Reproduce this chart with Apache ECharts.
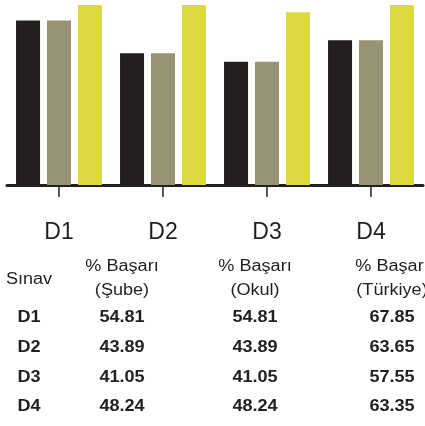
<!DOCTYPE html>
<html>
<head>
<meta charset="utf-8">
<script src="https://cdn.jsdelivr.net/npm/echarts@6/dist/echarts.min.js"></script>
<style>
  html, body { margin: 0; padding: 0; background: #ffffff; }
  #chart { width: 425px; height: 426px; }
</style>
</head>
<body>
<div id="chart"></div>
<script>
// Exam categories and success rates
const categories = ['D1', 'D2', 'D3', 'D4'];
const subeValues = [54.81, 43.89, 41.05, 48.24];
const okulValues = [54.81, 43.89, 41.05, 48.24];
const turkiyeValues = [67.85, 63.65, 57.55, 63.35];

// Table header texts
const headerSinav = 'Sınav';
const headerCols = [
  ['% Başarı', '(Şube)'],
  ['% Başarı', '(Okul)'],
  ['% Başarı', '(Türkiye)']
];

const ink = '#231f20';
const fontFamily = '"Liberation Sans", Arial, sans-serif';

const chart = echarts.init(document.getElementById('chart'), null, { renderer: 'canvas' });

// Summary table drawn under the chart
const colX = [29, 122, 255, 392];
const headY1 = 267, headY2 = 291, headMidY = 280;
const rowY = [318, 348, 378, 407];
const sx = 1.13;

function txt(x, y, text, bold) {
  return {
    type: 'text',
    x: x, y: y,
    scaleX: sx,
    style: {
      text: text,
      x: 0, y: 0,
      align: 'center',
      verticalAlign: 'middle',
      fill: ink,
      font: (bold ? 'bold ' : '') + '16px ' + fontFamily
    }
  };
}

const tableItems = [];
tableItems.push(txt(colX[0], headMidY, headerSinav, false));
headerCols.forEach((h, i) => {
  tableItems.push(txt(colX[i + 1], headY1, h[0], false));
  tableItems.push(txt(colX[i + 1], headY2, h[1], false));
});
const seriesCols = [subeValues, okulValues, turkiyeValues];
categories.forEach((c, r) => {
  tableItems.push(txt(colX[0], rowY[r], c, true));
  seriesCols.forEach((vals, i) => {
    tableItems.push(txt(colX[i + 1], rowY[r], vals[r].toFixed(2), true));
  });
});

const option = {
  animation: false,
  backgroundColor: '#ffffff',
  grid: { left: 7, right: 2, top: 5, bottom: 241, containLabel: false },
  xAxis: {
    type: 'category',
    data: categories,
    axisLine: { show: true, lineStyle: { color: ink, width: 3 } },
    axisTick: { show: true, alignWithLabel: true, length: 12, lineStyle: { color: ink, width: 1.5 } },
    axisLabel: { color: ink, fontSize: 23, fontFamily: fontFamily, margin: 36 }
  },
  yAxis: {
    type: 'value',
    min: 0, max: 60,
    show: false,
    splitLine: { show: false }
  },
  series: [
    { name: '% Başarı (Şube)', type: 'bar', data: subeValues, barWidth: 24, barGap: '29%', clip: true,
      itemStyle: { color: ink } },
    { name: '% Başarı (Okul)', type: 'bar', data: okulValues, barWidth: 24, barGap: '29%', clip: true,
      itemStyle: { color: '#979571' } },
    { name: '% Başarı (Türkiye)', type: 'bar', data: turkiyeValues, barWidth: 24, barGap: '29%', clip: true,
      itemStyle: { color: '#dcd942' } }
  ],
  graphic: tableItems
};

chart.setOption(option);
</script>
</body>
</html>
